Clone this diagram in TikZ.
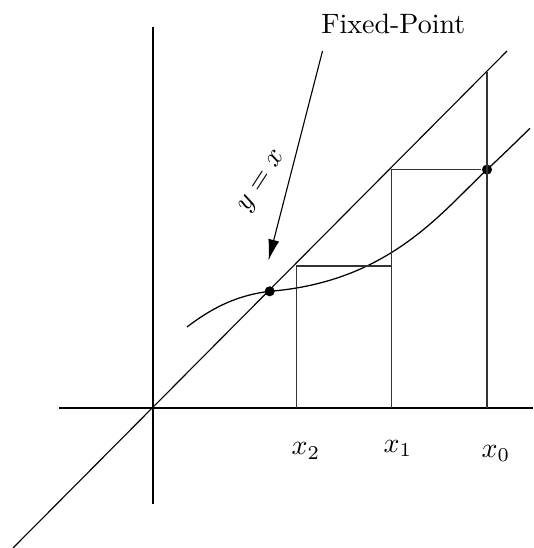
\documentclass[tikz,border=0pt]{standalone}
\usepackage{amsmath}
\usepackage{tikz}
\usetikzlibrary{arrows.meta,positioning}
\tikzset{
  axis/.style={line width=0.4pt,draw=black},
  cob/.style={line width=0.4pt,draw=black!80},
  fn/.style={line width=0.45pt,draw=black},
  dot/.style={circle,fill=black,inner sep=0pt,minimum size=3.6pt},
  lbl/.style={inner sep=1pt,font=\normalsize},
  ptr/.style={-{Latex[length=7.5pt,width=4pt]},line width=0.4pt},
}
\begin{document}
\begin{tikzpicture}[x=0.357pt,y=-0.357pt]
  \useasboundingbox (0,0) rectangle (533,548);

  % axes and the line y=x
  \draw[axis] (59,408) -- (533,408);
  \draw[axis] (153,27) -- (153,504);
  \draw[axis] (13,548) -- (507,51);

  \node[dot] (fp) at (269.7,291.3) {};
  \node[dot] (g0) at (487,169.6) {};

  % the map g(x)
  \draw[fn] (187,327) .. controls (215,305.5) and (240,294.9) .. (fp.center)
    .. controls (389.7,281.7) and (442,211.5) .. (g0.center)
    .. controls (502,155.6) and (516,142) .. (530,128.3);

  % cobweb steps
  \draw[cob] (487,408) -- (487,72);
  \draw[cob] (g0) -- (391.2,169.6) -- (391.2,408);
  \draw[cob] (391.2,266) -- (296.6,266) -- (296.6,408);

  \node[lbl] (x2) at (306,451) {$x_2$};
  \node[lbl] (x1) at (398,448.6) {$x_1$};
  \node[lbl] (x0) at (496,453.5) {$x_0$};

  \node[lbl,anchor=base west,inner sep=0pt] (name) at (320.7,33.3) {Fixed-Point};
  \coordinate (tail) at (322.5,51);
  \coordinate (tip) at (268.5,260.5);
  \draw[ptr] (tail) -- (tip);
  \node[lbl,rotate=57] (yx) at (263,182) {$y=x$};
\end{tikzpicture}
\end{document}
